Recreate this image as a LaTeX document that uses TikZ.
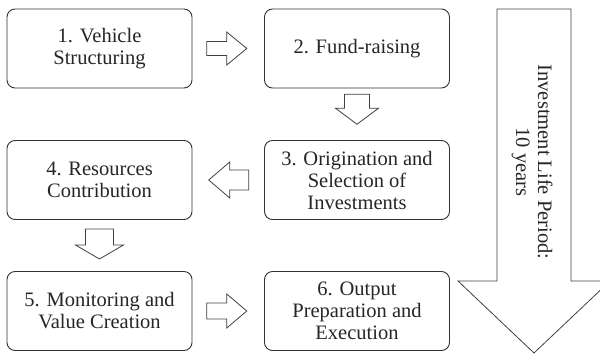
\documentclass[tikz,border=0pt]{standalone}
\usepackage{fontspec}
\setmainfont{Liberation Serif}
\usetikzlibrary{calc}
\begin{document}
\begin{tikzpicture}[x=1pt,y=-1pt,
  box/.style={draw=black!80, line width=0.9pt, rounded corners=8pt, align=center,
    font=\fontsize{20.5}{22}\selectfont, text=black!85, inner sep=0pt,
    minimum width=185pt, minimum height=79pt},
  blk/.style={draw=black!75, line width=0.8pt, fill=white, line join=miter},
  lbl/.style={font=\fontsize{20.5}{22}\selectfont, text=black!85, align=center, inner sep=0pt}]
\useasboundingbox (0,0) rectangle (600,354);

\node[box] (b1) at (99.5,48.5) {1. Vehicle\\Structuring};
\node[box] (b2) at (357,48.5) {2. Fund-raising};
\node[box] (b3) at (357,180) {3. Origination and\\Selection of\\Investments};
\node[box] (b4) at (99.5,180) {4. Resources\\Contribution};
\node[box] (b5) at (99.5,311) {5. Monitoring and\\Value Creation};
\node[box] (b6) at (357,311) {6. Output\\Preparation and\\Execution};

\coordinate (m12) at ($(b1.east)!0.5!(b2.west)$);
\coordinate (m23) at ($(b2.south)!0.5!(b3.north)$);
\coordinate (m34) at ($(b3.west)!0.5!(b4.east)$);
\coordinate (m45) at ($(b4.south)!0.5!(b5.north)$);
\coordinate (m56) at ($(b5.east)!0.5!(b6.west)$);

% 1 -> 2
\draw[blk, shift={(m12)}] (-21.5,-7) -- (-1.5,-7) -- (-1.5,-16.5) -- (18.5,0) -- (-1.5,16.5) -- (-1.5,7) -- (-21.5,7) -- cycle;
% 2 -> 3
\draw[blk, shift={(m23)}] (-12.5,-20) -- (12.5,-20) -- (12.5,-6) -- (21.5,-6) -- (0,10) -- (-21.5,-6) -- (-12.5,-6) -- cycle;
% 3 -> 4
\draw[blk, shift={(m34)}] (20.5,-10) -- (1.5,-10) -- (1.5,-18) -- (-19.5,0) -- (1.5,18) -- (1.5,10) -- (20.5,10) -- cycle;
% 4 -> 5
\draw[blk, shift={(m45)}] (-14,-16.5) -- (14,-16.5) -- (14,-0.5) -- (24,-0.5) -- (0,13.5) -- (-24,-0.5) -- (-14,-0.5) -- cycle;
% 5 -> 6
\draw[blk, shift={(m56)}] (-21.5,-8) -- (-1.5,-8) -- (-1.5,-17) -- (18.5,0) -- (-1.5,17) -- (-1.5,8) -- (-21.5,8) -- cycle;

% big arrow
\coordinate (bt) at (534,9);
\draw[blk] (497,9) -- (571,9) -- (571,281) -- (610,281) -- (534,353) -- (458,281) -- (497,281) -- cycle;
\node[lbl, rotate=-90] (life) at (532,162) {Investment Life Period:\\10 years};
\end{tikzpicture}
\end{document}
